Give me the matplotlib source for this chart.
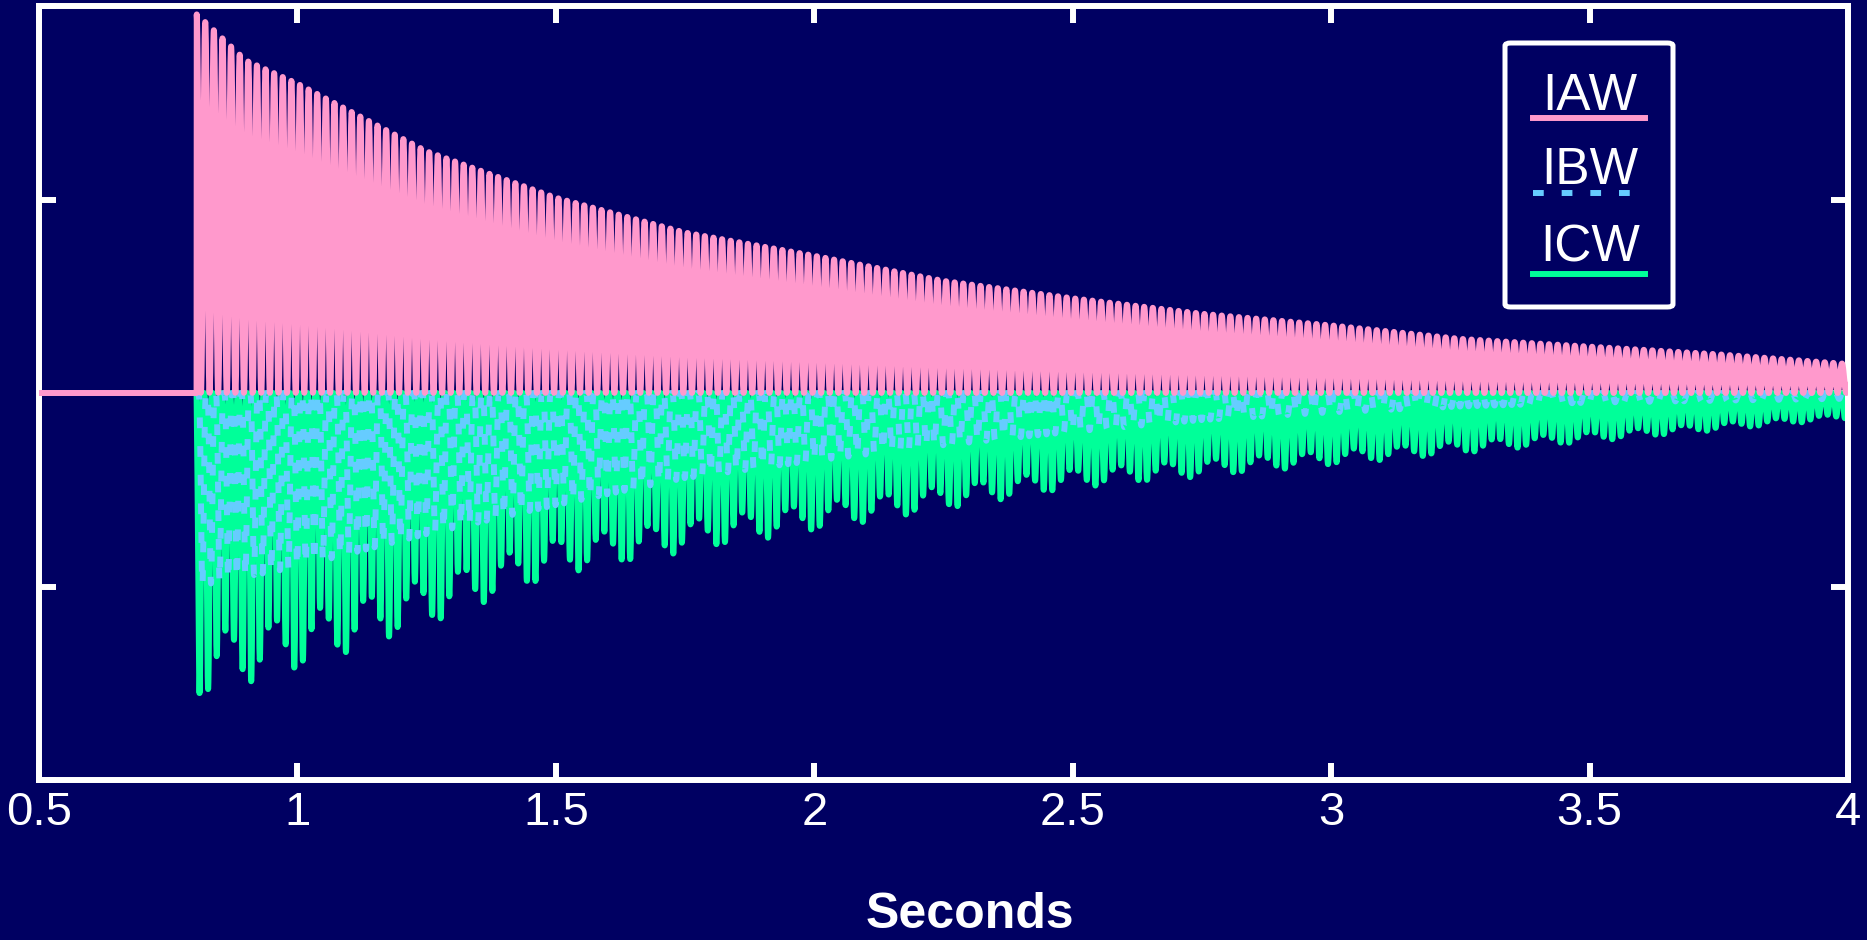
import numpy as np
import matplotlib.pyplot as plt
from matplotlib.lines import Line2D
from matplotlib.patches import FancyBboxPatch

# envelope of each phase current (peak value per time)
env_t = [0.805, 0.9, 1.0, 1.25, 1.5, 1.75, 2.0, 2.25, 2.5, 2.75, 3.0, 3.25, 3.5, 3.75, 4.0]
iaw_peak = [1.96, 1.72, 1.60, 1.25, 1.01, 0.83, 0.71, 0.58, 0.49, 0.41, 0.35, 0.28, 0.24, 0.20, 0.15]
ibw_peak = [-1.00, -0.95, -0.90, -0.73, -0.58, -0.44, -0.35, -0.27, -0.20, -0.14, -0.10, -0.07, -0.05, -0.04, -0.03]
icw_peak = [-1.58, -1.50, -1.43, -1.20, -0.94, -0.82, -0.71, -0.60, -0.49, -0.43, -0.37, -0.31, -0.25, -0.19, -0.13]
f_line = 60.0          # supply frequency, Hz
t_start = 0.805        # switch-on time
names = ['IAW', 'IBW', 'ICW']
xticks = [0.5, 1, 1.5, 2, 2.5, 3, 3.5, 4]

bg = '#000062'
c_a = '#FF99CC'
c_b = '#66CCFF'
c_c = '#00FF99'

# time axis and waveforms
t = np.arange(0.5, 4.0, 1.0 / (f_line * 48))
on = t >= t_start
th = 2 * np.pi * f_line * (t - t_start)
ea = np.interp(t, env_t, iaw_peak) * on
eb = np.interp(t, env_t, ibw_peak) * on
ec = np.interp(t, env_t, icw_peak) * on
iaw = ea * (0.5 + 0.5 * np.cos(th))
ibw = eb * ((1 + np.cos(th + 2.1)) / 2) ** 2
icw = ec * ((1 + np.cos(th - 2.1)) / 2) ** 2 * (0.9 + 0.1 * np.cos(2 * np.pi * 11 * t))

plt.rcParams['font.family'] = ['Liberation Sans', 'DejaVu Sans']
fig = plt.figure(figsize=(18.67, 9.40), dpi=100, facecolor=bg)
ax = fig.add_axes([39/1867, 1-780/940, (1848-39)/1867, (780-6)/940])
ax.set_facecolor(bg)

lw = 4.3
ax.plot(t, icw, color=c_c, lw=lw, solid_joinstyle='round', solid_capstyle='round', zorder=2)
ax.plot(t, ibw, color=c_b, lw=lw, dashes=(1.8, 3.0), zorder=3)
ax.plot(t, iaw, color=c_a, lw=lw, solid_joinstyle='round', solid_capstyle='round', zorder=4)

ax.set_xlim(0.5, 4)
ax.set_ylim(-2, 2)
ax.set_xticks(xticks)
ax.set_xticklabels([str(v) for v in xticks])
ax.set_yticks([-2, -1, 0, 1, 2])
ax.set_yticklabels([])
ax.tick_params(direction='in', length=12, width=4.3, color='white', labelcolor='white',
               labelsize=34, pad=8, top=True, right=True)
for s in ax.spines.values():
    s.set_color('white')
    s.set_linewidth(4.3)

fig.text(970/1867, 1-928/940, 'Seconds', color='white', fontsize=36, fontweight='bold',
         ha='center', va='baseline')

# legend drawn by hand: label above its line sample
box = FancyBboxPatch((1505/1867, 1-307/940), (1673-1505)/1867, (307-43)/940,
                     boxstyle='round,pad=0,rounding_size=0.003', transform=fig.transFigure,
                     facecolor=bg, edgecolor='white', linewidth=3.6, zorder=10)
fig.add_artist(box)
text_y = [110, 184, 262]
line_y = [118, 193, 274]
styles = [dict(color=c_a), dict(color=c_b, dashes=(1.8, 3.0)), dict(color=c_c)]
for name, ty, ly, st in zip(names, text_y, line_y, styles):
    fig.text(1590/1867, 1-ty/940, name, color='white', fontsize=37, ha='center',
             va='baseline', zorder=11)
    fig.add_artist(Line2D([1533/1867, 1645/1867], [1-ly/940, 1-ly/940], lw=lw,
                          transform=fig.transFigure, zorder=11, **st))

fig.savefig('out.png', dpi=100, facecolor=bg)
